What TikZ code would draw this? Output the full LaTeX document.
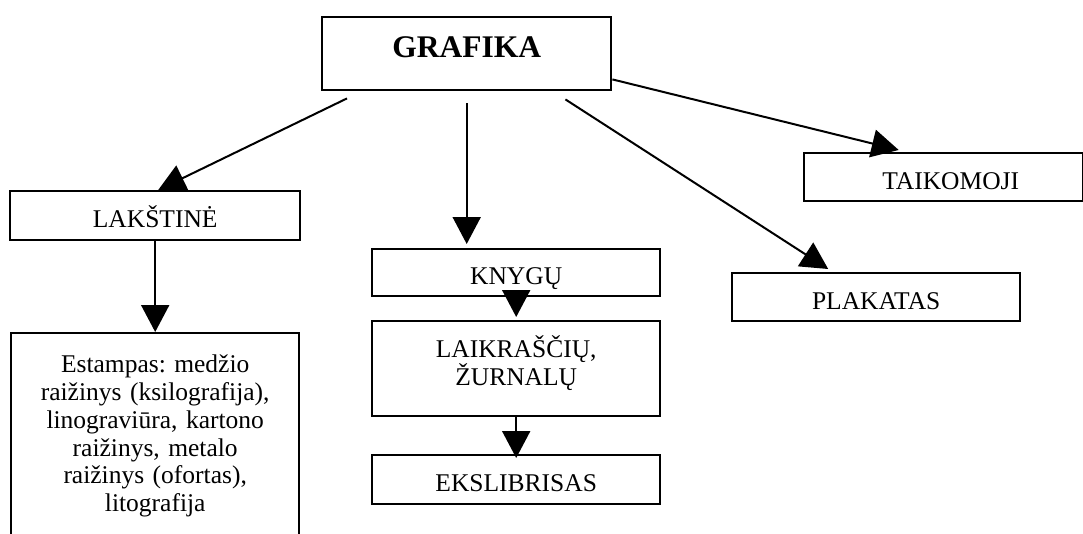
\documentclass[tikz,border=0pt]{standalone}
\usepackage{fontspec}
\setmainfont{Liberation Serif}
\usepackage{tikz}
\usetikzlibrary{arrows.meta, calc}
\frenchspacing

\tikzset{
  box/.style={draw, line width=2.4pt, inner sep=0pt, align=center, anchor=north west,
    font=\fontsize{25.5}{27.7}\selectfont},
  arr/.style={line width=2pt, -{Triangle[length=27pt,width=28pt]}}
}

\begin{document}
\begin{tikzpicture}[x=1pt,y=-1pt]
\useasboundingbox (0,0) rectangle (1083,533);
\clip (0,0) rectangle (1083,533);

% Boxes
\node[box, font=\fontsize{31.5}{34}\selectfont\bfseries, text width=289pt, text height=40.7pt, text depth=32.3pt] (grafika) at (321,16) {GRAFIKA};
\node[box, text width=290pt, text height=36.7pt, text depth=12.3pt] (lakstine) at (9,190) {LAKŠTINĖ};
\node[box, text width=288pt, text height=39.7pt, text depth=188.3pt] (estampas) at (10,332)
  {Estampas: medžio\\ raižinys (ksilografija),\\ linograviūra, kartono\\ raižinys, metalo\\ raižinys (ofortas),\\ litografija};
\node[box, text width=288pt, text height=35.3pt, text depth=11.7pt] (knygu) at (371,248) {KNYGŲ};
\node[box, text width=288pt, text height=36.7pt, text depth=58.3pt] (laikrasciu) at (371,320) {LAIKRAŠČIŲ,\\ ŽURNALŲ};
\node[box, text width=288pt, text height=36pt, text depth=13pt] (ekslibrisas) at (371,454) {EKSLIBRISAS};
\node[box, text width=288pt, text height=36.3pt, text depth=11.7pt] (plakatas) at (731,272) {PLAKATAS};
\node[box, text width=279pt, text height=36.3pt, text depth=11.7pt] (taikomoji) at (803,152) {\hspace*{14pt}TAIKOMOJI};

% Arrows
\draw[arr] ($(grafika.south west)+(26,7)$) -- ([xshift=3pt]lakstine.north);
\draw[arr] ([yshift=-12pt]grafika.south) -- ($(grafika.south |- knygu.north)+(0,-4)$);
\draw[arr] ($(grafika.south east)+(-47,8)$) -- ($(plakatas.north)+(-48,-3)$);
\draw[arr] ($(grafika.south east)+(0,-12)$) -- ($(taikomoji.north)+(-45,-2)$);
\draw[arr] (lakstine.south) -- (estampas.north);
\draw[arr] ([yshift=6pt]knygu.south) -- ([yshift=3pt]laikrasciu.north);
\draw[arr] (laikrasciu.south) -- ([yshift=-4pt]ekslibrisas.north);
\end{tikzpicture}
\end{document}
